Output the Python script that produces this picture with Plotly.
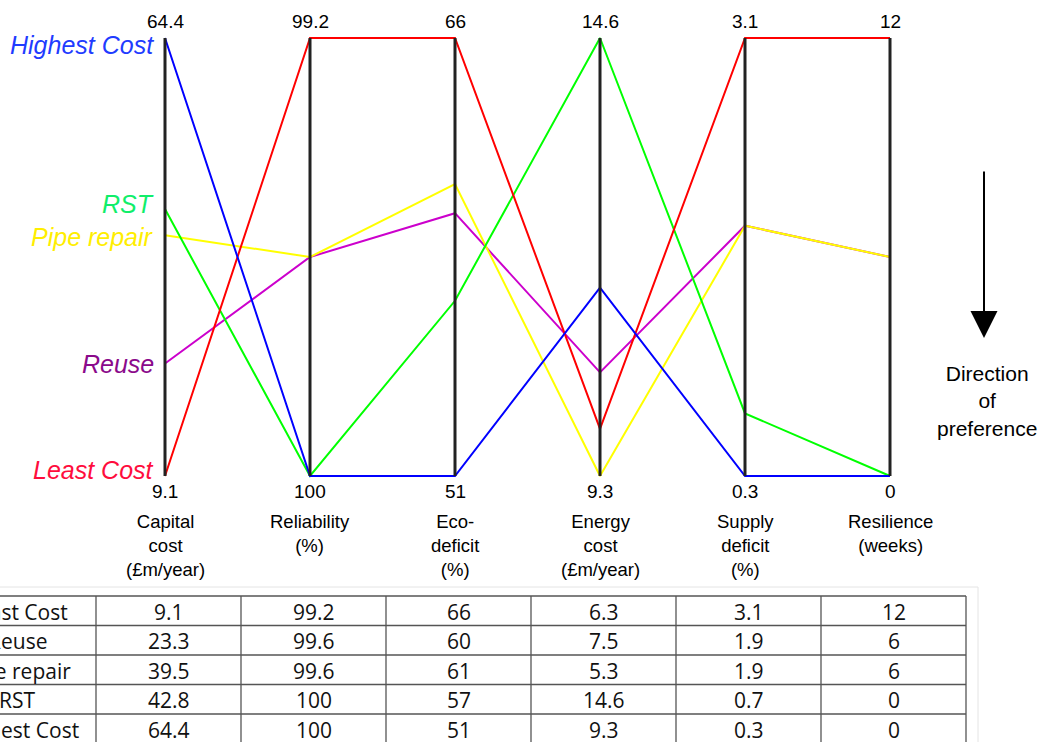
import plotly.graph_objects as go

# ---------------- data ----------------
strategies = ["Least Cost", "Reuse", "Pipe repair", "RST", "Highest Cost"]
criteria = ["Capital<br>cost<br>(£m/year)", "Reliability<br>(%)", "Eco-<br>deficit<br>(%)",
            "Energy<br>cost<br>(£m/year)", "Supply<br>deficit<br>(%)", "Resilience<br>(weeks)"]
capital_cost = [9.1, 23.3, 39.5, 42.8, 64.4]
reliability = [99.2, 99.6, 99.6, 100, 100]
eco_deficit = [66, 60, 61, 57, 51]
energy_cost = [6.3, 7.5, 5.3, 14.6, 9.3]
supply_deficit = [3.1, 1.9, 1.9, 0.7, 0.3]
resilience = [12, 6, 6, 0, 0]
higher_is_better = [False, True, False, False, False, False]
top_labels = ["64.4", "99.2", "66", "14.6", "3.1", "12"]
bottom_labels = ["9.1", "100", "51", "9.3", "0.3", "0"]

line_colors = {"Least Cost": "#ff0000", "Reuse": "#cc00cc", "Pipe repair": "#ffff00",
               "RST": "#00ff00", "Highest Cost": "#0000ff"}
label_colors = {"Least Cost": "#ff0d3d", "Reuse": "#8b0a8b", "Pipe repair": "#ffee00",
                "RST": "#10ee6a", "Highest Cost": "#1f3cff"}
label_shift = {"Least Cost": 6, "Reuse": 0, "Pipe repair": -2, "RST": 5, "Highest Cost": -7}

columns = [capital_cost, reliability, eco_deficit, energy_cost, supply_deficit, resilience]

# ---------------- geometry helpers (layout only) ----------------
W, H = 1040, 742
X0, DX = 165, 145          # pixel x of first axis, axis spacing
YTOP, YBOT = 38, 476       # pixel y of axis top / bottom


def px2x(px):
    return (px - X0) / DX


def py2y(py):
    return (YBOT - py) / (YBOT - YTOP)


def pxp(px):
    return px / W


def pyp(py):
    return 1 - py / H


# normalise each criterion: worst at top (1), best at bottom (0)
norm_cols = []
for col, hib in zip(columns, higher_is_better):
    lo, hi = min(col), max(col)
    top, bot = (lo, hi) if hib else (hi, lo)
    norm_cols.append([(v - bot) / (top - bot) for v in col])

FONT = "Liberation Sans, Arial, sans-serif"
TFONT = "Open Sans, sans-serif"

fig = go.Figure()
draw_order = ["Reuse", "Pipe repair", "RST", "Least Cost", "Highest Cost"]
for name in draw_order:
    k = strategies.index(name)
    fig.add_trace(go.Scatter(
        x=list(range(len(columns))),
        y=[nc[k] for nc in norm_cols],
        mode="lines", name=name,
        line=dict(color=line_colors[name], width=2),
        hoverinfo="skip", showlegend=False, cliponaxis=False))

shapes = []
annotations = []
# parallel axes
for i in range(len(columns)):
    shapes.append(dict(type="line", xref="x", yref="y", x0=i, x1=i, y0=0, y1=1,
                       line=dict(color="#222222", width=3), layer="above"))
    annotations.append(dict(x=i, y=py2y(21), xref="x", yref="y", text=top_labels[i],
                            showarrow=False, font=dict(family=FONT, size=19, color="black"),
                            xanchor="center", yanchor="middle"))
    annotations.append(dict(x=i, y=py2y(491), xref="x", yref="y", text=bottom_labels[i],
                            showarrow=False, font=dict(family=FONT, size=19, color="black"),
                            xanchor="center", yanchor="middle"))
    annotations.append(dict(x=i, y=py2y(509), xref="x", yref="y", text=criteria[i],
                            showarrow=False, font=dict(family=FONT, size=18.5, color="black"),
                            xanchor="center", yanchor="top", align="center"))

# strategy labels at capital-cost axis
for k, name in enumerate(strategies):
    annotations.append(dict(x=px2x(156), y=norm_cols[0][k], xref="x", yref="y",
                            text=f"<i>{name}</i>", showarrow=False,
                            font=dict(family=FONT, size=25, color=label_colors[name]),
                            xanchor="right", yanchor="middle", yshift=label_shift[name]))

# direction of preference arrow
annotations.append(dict(x=pxp(984), y=pyp(338), xref="paper", yref="paper",
                        ax=0, ay=-168, axref="pixel", ayref="pixel", text="",
                        showarrow=True, arrowhead=2, arrowwidth=2, arrowsize=2.7,
                        arrowcolor="black"))
annotations.append(dict(x=pxp(987), y=pyp(401), xref="paper", yref="paper",
                        text="Direction<br>of<br>preference", showarrow=False,
                        font=dict(family=FONT, size=21, color="black"),
                        xanchor="center", yanchor="middle", align="center"))

# ---------------- table ----------------
T_TOP, T_ROW = 596, 29.5
T_COL0, T_CW = 96, 145
ncols = len(columns) + 1
# faint frame of the table image
shapes.append(dict(type="rect", xref="paper", yref="paper", x0=pxp(-5), x1=pxp(978),
                   y0=pyp(748), y1=pyp(587), line=dict(color="#e4e4e4", width=1),
                   layer="below"))
for r in range(len(strategies) + 1):
    y = T_TOP + r * T_ROW
    shapes.append(dict(type="line", xref="paper", yref="paper", x0=0, x1=pxp(T_COL0 + 6 * T_CW),
                       y0=pyp(y), y1=pyp(y), line=dict(color="#555555", width=1.3)))
for c in range(ncols):
    x = T_COL0 + c * T_CW
    shapes.append(dict(type="line", xref="paper", yref="paper", x0=pxp(x), x1=pxp(x),
                       y0=pyp(T_TOP), y1=pyp(H + 5), line=dict(color="#555555", width=1.3)))
for r, name in enumerate(strategies):
    yc = T_TOP + (r + 0.5) * T_ROW
    cells = [name] + [f"{col[r]:g}" for col in columns]
    for c, txt in enumerate(cells):
        xc = T_COL0 + (c - 0.5) * T_CW if c > 0 else 17
        annotations.append(dict(x=pxp(xc), y=pyp(yc + 1), xref="paper", yref="paper",
                                text=txt, showarrow=False,
                                font=dict(family=TFONT, size=21, color="#111111"),
                                xanchor="center", yanchor="middle"))

fig.update_layout(
    width=W, height=H,
    margin=dict(l=0, r=0, t=0, b=0),
    paper_bgcolor="white", plot_bgcolor="white",
    xaxis=dict(range=[px2x(0), px2x(W)], visible=False, fixedrange=True),
    yaxis=dict(range=[py2y(H), py2y(0)], visible=False, fixedrange=True),
    shapes=shapes, annotations=annotations,
    showlegend=False,
)

fig.write_html("out.html", config={"displayModeBar": False},
               post_script="document.body.style.margin='0';document.body.style.overflow='hidden';")
